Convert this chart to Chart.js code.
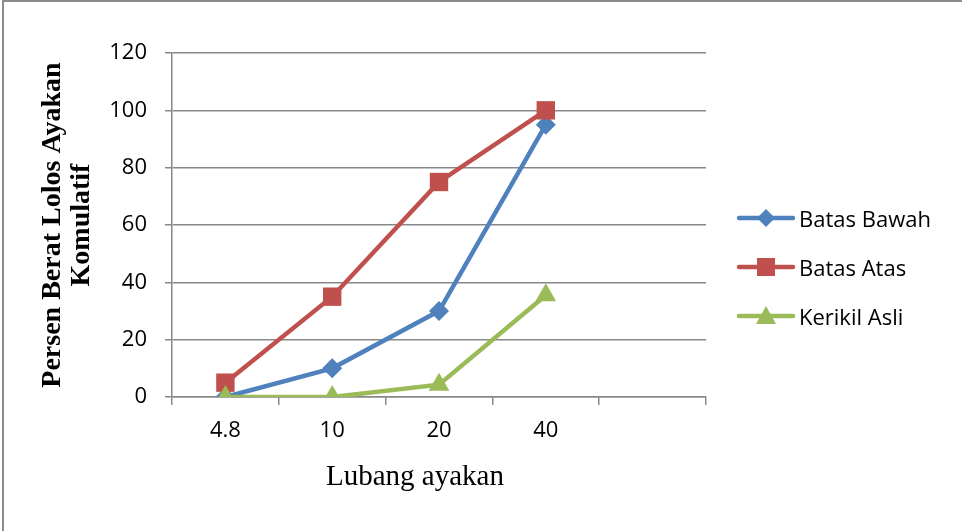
<!DOCTYPE html>
<html>
<head>
<meta charset="utf-8">
<script src="https://cdn.jsdelivr.net/npm/chart.js@4/dist/chart.umd.min.js"></script>
<style>
  html, body { margin: 0; padding: 0; background: #fff; }
  #wrap { position: relative; width: 962px; height: 531px; overflow: hidden; }
  #frame { position: absolute; left: 2px; top: 0px; width: 1000px; height: 600px; border-left: 2px solid #8c8c8c; border-top: 2px solid #8c8c8c; pointer-events: none; }
  #legend { position: absolute; left: 736px; top: 0; font-family: "Open Sans", sans-serif; font-size: 22px; color: #000; }
  .item { position: absolute; left: 0; display: flex; align-items: center; white-space: nowrap; }
  .item svg { display: block; margin-right: 3px; }
  #xtitle { position: absolute; left: 215px; width: 400px; top: 458px; text-align: center; font-family: "Liberation Serif", serif; font-size: 29px; line-height: 34px; color: #000; white-space: nowrap; }
</style>
</head>
<body>
<div id="wrap">
  <canvas id="c" width="962" height="531"></canvas>
  <div id="frame"></div>
  <div id="legend"></div>
  <div id="xtitle"></div>
</div>
<script>
const categories = ['4.8', '10', '20', '40', ''];
const batasBawah = [0, 10, 30, 95, null];
const batasAtas = [5, 35, 75, 100, null];
const kerikilAsli = [0, 0, 4.3, 35.5, null];
const yTitle = ['Persen Berat Lolos Ayakan', 'Komulatif'];
const xTitle = 'Lubang ayakan';

const BLUE = '#4F81BD', RED = '#C0504D', GREEN = '#9BBB59', GRID = '#888888';

const series = [
  { label: 'Batas Bawah', data: batasBawah, color: BLUE, style: 'rectRot', r: 10, order: 2 },
  { label: 'Batas Atas', data: batasAtas, color: RED, style: 'rect', r: 13, order: 1 },
  { label: 'Kerikil Asli', data: kerikilAsli, color: GREEN, style: 'triangle', r: 12, order: 0 }
];

const chart = new Chart(document.getElementById('c'), {
  type: 'line',
  data: {
    labels: categories,
    datasets: series.map(s => ({
      label: s.label,
      data: s.data,
      borderColor: s.color,
      backgroundColor: s.color,
      borderWidth: 4.5,
      pointStyle: s.style,
      pointRadius: s.r,
      pointHoverRadius: s.r,
      pointBorderWidth: 0,
      pointBackgroundColor: s.color,
      order: s.order,
      tension: 0,
      spanGaps: false
    }))
  },
  options: {
    responsive: false,
    animation: false,
    devicePixelRatio: 1,
    layout: { padding: { left: 8, right: 256, top: 53, bottom: 0 } },
    plugins: { legend: { display: false }, tooltip: { enabled: false } },
    scales: {
      x: {
        type: 'category',
        offset: true,
        grid: { display: true, drawOnChartArea: false, drawTicks: true, tickLength: 8, offset: true, color: GRID, lineWidth: 1.5 },
        border: { display: true, color: GRID, width: 1.5 },
        ticks: { color: '#000', font: { family: 'Open Sans', size: 22 }, padding: 13, maxRotation: 0, autoSkip: false },
        title: { display: false },
        afterFit: (s) => { s.height = 531 - 397; }
      },
      y: {
        min: 0, max: 120,
        ticks: { stepSize: 20, color: '#000', font: { family: 'Open Sans', size: 22 }, padding: 18 },
        grid: { color: GRID, lineWidth: 1.5, tickLength: 7, drawTicks: true },
        border: { display: true, color: GRID, width: 1.5 },
        title: { display: true, text: yTitle, color: '#000', font: { family: 'Liberation Serif', size: 28, weight: 'bold', lineHeight: 1.04 }, padding: { top: 30, bottom: 0 } },
        afterFit: (s) => { s.width = 172 - 8; }
      }
    }
  }
});

document.getElementById('xtitle').textContent = xTitle;

// HTML legend (Excel-like: line with marker)
const legend = document.getElementById('legend');
const ys = [218, 267, 316];
series.forEach((s, i) => {
  const d = document.createElement('div');
  d.className = 'item';
  d.style.top = (ys[i] - 15) + 'px';
  let marker = '';
  if (s.style === 'rectRot') marker = `<polygon points="30,3 39,12 30,21 21,12" fill="${s.color}"/>`;
  else if (s.style === 'rect') marker = `<rect x="21" y="3" width="18" height="18" fill="${s.color}"/>`;
  else marker = `<polygon points="30,2 40,20 20,20" fill="${s.color}"/>`;
  d.innerHTML = `<svg width="60" height="30" viewBox="0 -1 60 26"><line x1="3" y1="12" x2="57" y2="12" stroke="${s.color}" stroke-width="4.5" stroke-linecap="round"/>${marker}</svg><span>${s.label}</span>`;
  legend.appendChild(d);
});
</script>
</body>
</html>
